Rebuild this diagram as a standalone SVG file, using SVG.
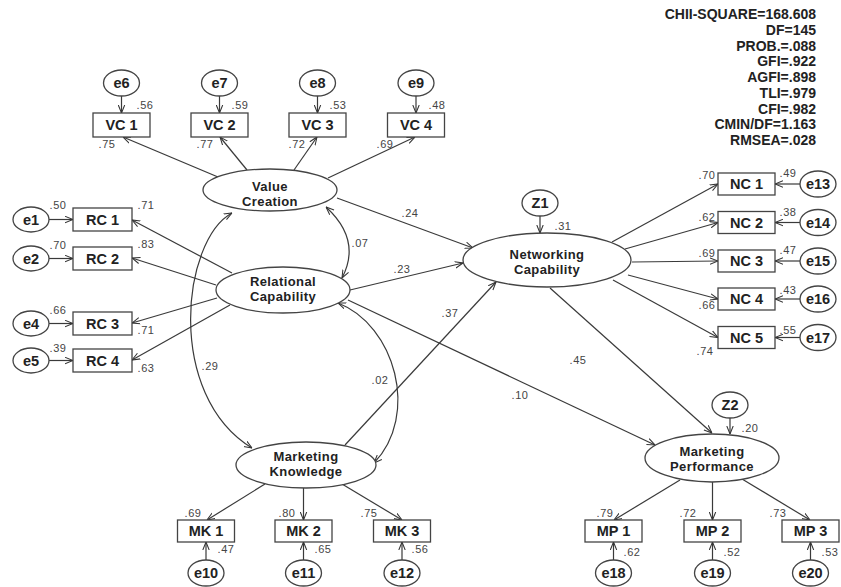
<svg xmlns="http://www.w3.org/2000/svg" width="841" height="587" viewBox="0 0 841 587">
<defs>
<marker id="ah" viewBox="0 0 10 10" refX="10" refY="5" markerWidth="8" markerHeight="8" orient="auto-start-reverse" markerUnits="userSpaceOnUse"><path d="M0,1 L10,5 L0,9" fill="none" stroke="#333" stroke-width="1.3"/></marker>
<style>
.ln{stroke:#3a3a3a;stroke-width:1.2;fill:none;marker-end:url(#ah)}
.cv{stroke:#3a3a3a;stroke-width:1.2;fill:none;marker-end:url(#ah);marker-start:url(#ah)}
.bx{fill:#fff;stroke:#444;stroke-width:1.3}
.el{fill:#fff;stroke:#444;stroke-width:1.3}
.t{font-family:"Liberation Sans",Arial,sans-serif;font-weight:bold;font-size:14.5px;fill:#222;text-anchor:middle}
.tl{font-family:"Liberation Sans",Arial,sans-serif;font-weight:bold;font-size:13px;letter-spacing:0.4px;fill:#222;text-anchor:middle}
.n{font-family:"Liberation Sans",Arial,sans-serif;font-size:11px;fill:#444;text-anchor:middle;letter-spacing:0.5px}
.s{font-family:"Liberation Sans",Arial,sans-serif;font-weight:bold;font-size:14px;fill:#222;text-anchor:end}
</style>
</defs>
<rect width="841" height="587" fill="#fff"/>

<g id="connectors">
<line class="ln" x1="121.5" y1="96" x2="121.5" y2="113"/>
<line class="ln" x1="219.5" y1="96" x2="219.5" y2="113"/>
<line class="ln" x1="317.5" y1="96" x2="317.5" y2="113"/>
<line class="ln" x1="416" y1="96" x2="416" y2="113"/>
<line class="ln" x1="49" y1="219.5" x2="73" y2="219.5"/>
<line class="ln" x1="49" y1="258.5" x2="73" y2="258.5"/>
<line class="ln" x1="49" y1="323.5" x2="73" y2="323.5"/>
<line class="ln" x1="49" y1="360.5" x2="73" y2="360.5"/>
<line class="ln" x1="800" y1="184" x2="775" y2="184"/>
<line class="ln" x1="800" y1="222.5" x2="775" y2="222.5"/>
<line class="ln" x1="800" y1="261" x2="775" y2="261"/>
<line class="ln" x1="800" y1="299" x2="775" y2="299"/>
<line class="ln" x1="800" y1="337.5" x2="775" y2="337.5"/>
<line class="ln" x1="206" y1="560" x2="206" y2="542"/>
<line class="ln" x1="303.5" y1="560" x2="303.5" y2="542"/>
<line class="ln" x1="402" y1="560" x2="402" y2="542"/>
<line class="ln" x1="613.5" y1="560" x2="613.5" y2="542"/>
<line class="ln" x1="712.5" y1="560" x2="712.5" y2="542"/>
<line class="ln" x1="810.5" y1="560" x2="810.5" y2="542"/>
<line class="ln" x1="540" y1="216" x2="540" y2="233"/>
<line class="ln" x1="730" y1="418" x2="730" y2="434"/>
<line class="ln" x1="218" y1="177" x2="123" y2="137"/>
<line class="ln" x1="247" y1="170" x2="220" y2="137"/>
<line class="ln" x1="294" y1="170" x2="317" y2="137"/>
<line class="ln" x1="328" y1="178" x2="415" y2="137"/>
<line class="ln" x1="232" y1="273" x2="132" y2="220"/>
<line class="ln" x1="216" y1="285" x2="132" y2="258"/>
<line class="ln" x1="217" y1="298" x2="132" y2="323"/>
<line class="ln" x1="230" y1="305" x2="132" y2="360"/>
<line class="ln" x1="612" y1="242" x2="718" y2="184"/>
<line class="ln" x1="625" y1="249" x2="718" y2="222.5"/>
<line class="ln" x1="632" y1="262" x2="718" y2="261"/>
<line class="ln" x1="628" y1="275" x2="718" y2="299"/>
<line class="ln" x1="613" y1="280" x2="718" y2="337.5"/>
<line class="ln" x1="265" y1="484" x2="207" y2="520"/>
<line class="ln" x1="303.5" y1="488" x2="303.5" y2="520"/>
<line class="ln" x1="342" y1="484" x2="402" y2="520"/>
<line class="ln" x1="680" y1="480" x2="614" y2="520"/>
<line class="ln" x1="712.5" y1="482" x2="712.5" y2="520"/>
<line class="ln" x1="742" y1="479" x2="810" y2="520"/>
<line class="ln" x1="337" y1="198" x2="473" y2="248"/>
<line class="ln" x1="350" y1="290" x2="463" y2="263"/>
<line class="ln" x1="345" y1="445" x2="496" y2="282"/>
<line class="ln" x1="348" y1="300" x2="655" y2="445"/>
<line class="ln" x1="550" y1="288" x2="712" y2="433"/>
<path class="cv" d="M326,207 Q362,240 342,278"/>
<path class="cv" d="M232,213 C182,240 165,395 252,448"/>
<path class="cv" d="M338,303 C395,325 420,415 374,463"/>
</g>

<g id="latent-VC"><ellipse class="el" cx="270" cy="190" rx="67" ry="21"/><text class="tl" x="270" y="190.5">Value</text><text class="tl" x="270" y="205.5">Creation</text></g>
<g id="latent-RC"><ellipse class="el" cx="283" cy="290" rx="67" ry="23"/><text class="tl" x="283" y="286">Relational</text><text class="tl" x="283" y="301">Capability</text></g>
<g id="latent-NC"><ellipse class="el" cx="547" cy="260" rx="84" ry="27"/><text class="tl" x="547" y="258.5">Networking</text><text class="tl" x="547" y="273.5">Capability</text></g>
<g id="latent-MK"><ellipse class="el" cx="306" cy="465" rx="70" ry="23"/><text class="tl" x="306" y="460.5">Marketing</text><text class="tl" x="306" y="475.5">Knowledge</text></g>
<g id="latent-MP"><ellipse class="el" cx="712" cy="458" rx="67" ry="24"/><text class="tl" x="712" y="455.5">Marketing</text><text class="tl" x="712" y="470.5">Performance</text></g>

<g id="Z1"><ellipse class="el" cx="540" cy="203" rx="18" ry="13"/><text class="t" x="540" y="208">Z1</text></g>
<g id="Z2"><ellipse class="el" cx="730" cy="405" rx="18" ry="13"/><text class="t" x="730" y="410">Z2</text></g>

<g id="VC1"><rect class="bx" x="93" y="113" width="57" height="24"/><text class="t" x="121.5" y="130">VC 1</text></g>
<g id="VC2"><rect class="bx" x="191" y="113" width="57" height="24"/><text class="t" x="219.5" y="130">VC 2</text></g>
<g id="VC3"><rect class="bx" x="289" y="113" width="57" height="24"/><text class="t" x="317.5" y="130">VC 3</text></g>
<g id="VC4"><rect class="bx" x="387.5" y="113" width="57" height="24"/><text class="t" x="416" y="130">VC 4</text></g>

<g id="e6"><ellipse class="el" cx="121.5" cy="83" rx="18" ry="13"/><text class="t" x="121.5" y="88">e6</text></g>
<g id="e7"><ellipse class="el" cx="219.5" cy="83" rx="18" ry="13"/><text class="t" x="219.5" y="88">e7</text></g>
<g id="e8"><ellipse class="el" cx="317.5" cy="83" rx="18" ry="13"/><text class="t" x="317.5" y="88">e8</text></g>
<g id="e9"><ellipse class="el" cx="416" cy="83" rx="18" ry="13"/><text class="t" x="416" y="88">e9</text></g>

<g id="RC1"><rect class="bx" x="73" y="208" width="59" height="23"/><text class="t" x="102.5" y="224.5">RC 1</text></g>
<g id="RC2"><rect class="bx" x="73" y="247" width="59" height="23"/><text class="t" x="102.5" y="263.5">RC 2</text></g>
<g id="RC3"><rect class="bx" x="73" y="312" width="59" height="23"/><text class="t" x="102.5" y="328.5">RC 3</text></g>
<g id="RC4"><rect class="bx" x="73" y="349" width="59" height="23"/><text class="t" x="102.5" y="365.5">RC 4</text></g>

<g id="e1"><ellipse class="el" cx="31" cy="219.5" rx="18" ry="12.5"/><text class="t" x="31" y="224.5">e1</text></g>
<g id="e2"><ellipse class="el" cx="31" cy="258.5" rx="18" ry="12.5"/><text class="t" x="31" y="263.5">e2</text></g>
<g id="e4"><ellipse class="el" cx="31" cy="323.5" rx="18" ry="12.5"/><text class="t" x="31" y="328.5">e4</text></g>
<g id="e5"><ellipse class="el" cx="31" cy="360.5" rx="18" ry="12.5"/><text class="t" x="31" y="365.5">e5</text></g>

<g id="NC1"><rect class="bx" x="718" y="173" width="57" height="22"/><text class="t" x="746.5" y="189">NC 1</text></g>
<g id="NC2"><rect class="bx" x="718" y="211.5" width="57" height="22"/><text class="t" x="746.5" y="227.5">NC 2</text></g>
<g id="NC3"><rect class="bx" x="718" y="250" width="57" height="22"/><text class="t" x="746.5" y="266">NC 3</text></g>
<g id="NC4"><rect class="bx" x="718" y="288" width="57" height="22"/><text class="t" x="746.5" y="304">NC 4</text></g>
<g id="NC5"><rect class="bx" x="718" y="326.5" width="57" height="22"/><text class="t" x="746.5" y="342.5">NC 5</text></g>

<g id="e13"><ellipse class="el" cx="818" cy="184" rx="18" ry="13"/><text class="t" x="818" y="189">e13</text></g>
<g id="e14"><ellipse class="el" cx="818" cy="222.5" rx="18" ry="13"/><text class="t" x="818" y="227.5">e14</text></g>
<g id="e15"><ellipse class="el" cx="818" cy="261" rx="18" ry="13"/><text class="t" x="818" y="266">e15</text></g>
<g id="e16"><ellipse class="el" cx="818" cy="299" rx="18" ry="13"/><text class="t" x="818" y="304">e16</text></g>
<g id="e17"><ellipse class="el" cx="818" cy="337.5" rx="18" ry="13"/><text class="t" x="818" y="342.5">e17</text></g>

<g id="MK1"><rect class="bx" x="177.5" y="520" width="57" height="22"/><text class="t" x="206" y="536">MK 1</text></g>
<g id="MK2"><rect class="bx" x="275" y="520" width="57" height="22"/><text class="t" x="303.5" y="536">MK 2</text></g>
<g id="MK3"><rect class="bx" x="373.5" y="520" width="57" height="22"/><text class="t" x="402" y="536">MK 3</text></g>

<g id="e10"><ellipse class="el" cx="206" cy="573" rx="18" ry="13"/><text class="t" x="206" y="578">e10</text></g>
<g id="e11"><ellipse class="el" cx="303.5" cy="573" rx="18" ry="13"/><text class="t" x="303.5" y="578">e11</text></g>
<g id="e12"><ellipse class="el" cx="402" cy="573" rx="18" ry="13"/><text class="t" x="402" y="578">e12</text></g>

<g id="MP1"><rect class="bx" x="585" y="520" width="57" height="22"/><text class="t" x="613.5" y="536">MP 1</text></g>
<g id="MP2"><rect class="bx" x="684" y="520" width="57" height="22"/><text class="t" x="712.5" y="536">MP 2</text></g>
<g id="MP3"><rect class="bx" x="782" y="520" width="57" height="22"/><text class="t" x="810.5" y="536">MP 3</text></g>

<g id="e18"><ellipse class="el" cx="613.5" cy="573" rx="18" ry="13"/><text class="t" x="613.5" y="578">e18</text></g>
<g id="e19"><ellipse class="el" cx="712.5" cy="573" rx="18" ry="13"/><text class="t" x="712.5" y="578">e19</text></g>
<g id="e20"><ellipse class="el" cx="810.5" cy="573" rx="18" ry="13"/><text class="t" x="810.5" y="578">e20</text></g>

<g id="labels">
<text class="n" x="145" y="109">.56</text><text class="n" x="240" y="109">.59</text><text class="n" x="338" y="109">.53</text><text class="n" x="437" y="109">.48</text>
<text class="n" x="107" y="148">.75</text><text class="n" x="205" y="148">.77</text><text class="n" x="297" y="148">.72</text><text class="n" x="385" y="148">.69</text>
<text class="n" x="58" y="209">.50</text><text class="n" x="146" y="209">.71</text>
<text class="n" x="58" y="249">.70</text><text class="n" x="146" y="248">.83</text>
<text class="n" x="58" y="314">.66</text><text class="n" x="146" y="334">.71</text>
<text class="n" x="58" y="352">.39</text><text class="n" x="146" y="372">.63</text>
<text class="n" x="210" y="370">.29</text><text class="n" x="360" y="247">.07</text>
<text class="n" x="410" y="217">.24</text><text class="n" x="402" y="273">.23</text>
<text class="n" x="380" y="384">.02</text><text class="n" x="450" y="317">.37</text>
<text class="n" x="520" y="399">.10</text><text class="n" x="578" y="364">.45</text>
<text class="n" x="563" y="230">.31</text><text class="n" x="750" y="432">.20</text>
<text class="n" x="707" y="179">.70</text><text class="n" x="788" y="177">.49</text>
<text class="n" x="707" y="221">.62</text><text class="n" x="788" y="216">.38</text>
<text class="n" x="707" y="257">.69</text><text class="n" x="788" y="254">.47</text>
<text class="n" x="707" y="309">.66</text><text class="n" x="788" y="294">.43</text>
<text class="n" x="705" y="355">.74</text><text class="n" x="788" y="334">.55</text>
<text class="n" x="193" y="517">.69</text><text class="n" x="287" y="517">.80</text><text class="n" x="369" y="517">.75</text>
<text class="n" x="226" y="553">.47</text><text class="n" x="323" y="553">.65</text><text class="n" x="420" y="553">.56</text>
<text class="n" x="605" y="517">.79</text><text class="n" x="688" y="517">.72</text><text class="n" x="778" y="517">.73</text>
<text class="n" x="632" y="556">.62</text><text class="n" x="732" y="556">.52</text><text class="n" x="830" y="556">.53</text>
</g>

<g id="fit-stats">
<text class="s" x="816" y="19">CHII-SQUARE=168.608</text>
<text class="s" x="816" y="34.75">DF=145</text>
<text class="s" x="816" y="50.5">PROB.=.088</text>
<text class="s" x="816" y="66.25">GFI=.922</text>
<text class="s" x="816" y="82">AGFI=.898</text>
<text class="s" x="816" y="97.75">TLI=.979</text>
<text class="s" x="816" y="113.5">CFI=.982</text>
<text class="s" x="816" y="129.25">CMIN/DF=1.163</text>
<text class="s" x="816" y="145">RMSEA=.028</text>
</g>
</svg>
